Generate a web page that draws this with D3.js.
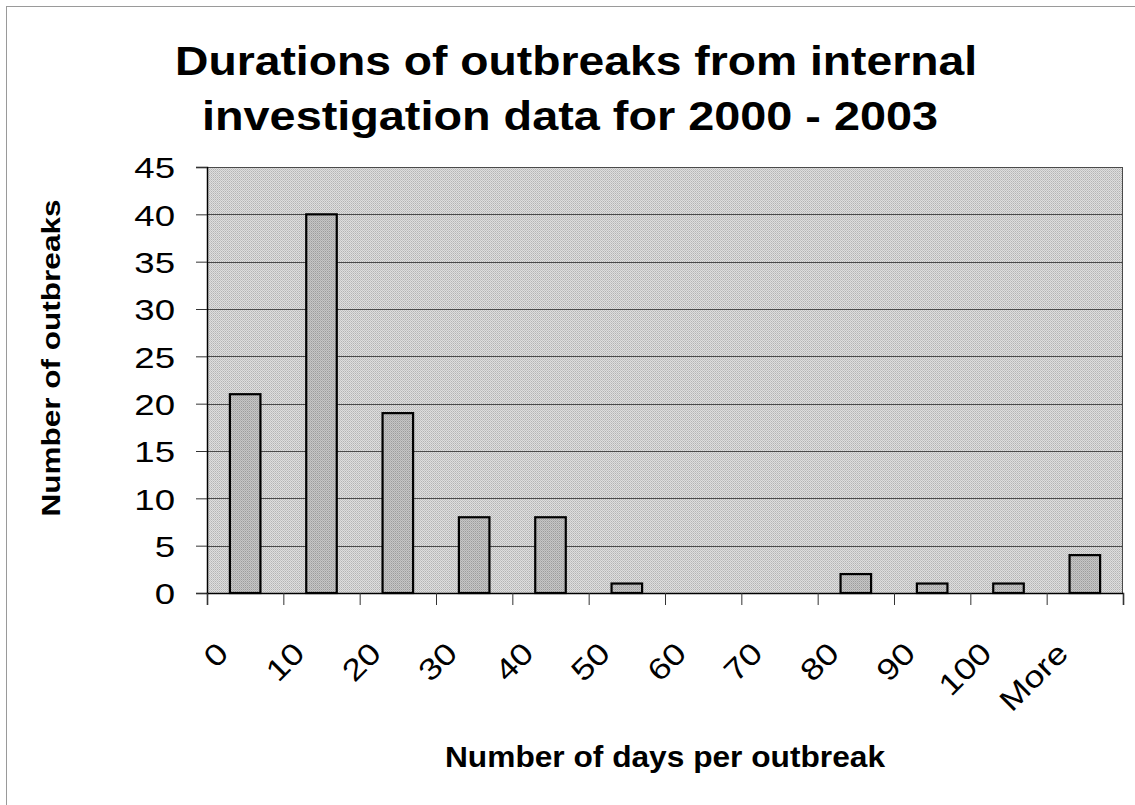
<!DOCTYPE html>
<html>
<head>
<meta charset="utf-8">
<script src="https://cdn.jsdelivr.net/npm/d3@7"></script>
<style>
	body { margin: 0; background: #fff; }
	svg { display: block; font-family: "Liberation Sans", Arial, sans-serif; }
</style>
</head>
<body>
<div id="container"></div>
<script>
	var categories = ["0", "10", "20", "30", "40", "50", "60", "70", "80", "90", "100", "More"];
	var counts = [21, 40, 19, 8, 8, 1, 0, 0, 2, 1, 1, 4];
	var yTicks = [0, 5, 10, 15, 20, 25, 30, 35, 40, 45];
	var titleLines = ["Durations of outbreaks from internal", "investigation data for 2000 - 2003"];

	var margin = {top: 167, right: 12, bottom: 212, left: 207},
		width = 1135 - margin.left - margin.right,
		height = 805 - margin.top - margin.bottom;

	var svg = d3.select("#container").append("svg")
		.attr("width", 1135)
		.attr("height", 805);

	// dithered grey like the printed chart
	var defs = svg.append("defs");
	var pat = defs.append("pattern")
		.attr("id", "dither")
		.attr("width", 2).attr("height", 2)
		.attr("patternUnits", "userSpaceOnUse");
	pat.append("rect").attr("width", 2).attr("height", 2).attr("fill", "#dedede");
	pat.append("rect").attr("width", 1).attr("height", 1).attr("fill", "#b4b4b4");
	pat.append("rect").attr("x", 1).attr("y", 1).attr("width", 1).attr("height", 1).attr("fill", "#c4c4c4");

	var barPat = defs.append("pattern")
		.attr("id", "barDither")
		.attr("width", 2).attr("height", 2)
		.attr("patternUnits", "userSpaceOnUse");
	barPat.append("rect").attr("width", 2).attr("height", 2).attr("fill", "#c6c6c6");
	barPat.append("rect").attr("width", 1).attr("height", 1).attr("fill", "#9c9c9c");
	barPat.append("rect").attr("x", 1).attr("y", 1).attr("width", 1).attr("height", 1).attr("fill", "#b0b0b0");

	// outer frame (only top/left visible in the scan)
	svg.append("rect")
		.attr("x", 6.5).attr("y", 6.5)
		.attr("width", 1300).attr("height", 1000)
		.attr("fill", "none")
		.attr("stroke", "#9a9a9a");

	var x = d3.scaleBand()
		.domain(categories)
		.range([0, width])
		.paddingInner(0.6)
		.paddingOuter(0.3);

	var xEdges = d3.scaleLinear().domain([0, categories.length]).range([0, width]);

	var y = d3.scaleLinear().domain([0, 45]).range([height, 0]);

	var g = svg.append("g").attr("transform", "translate(" + margin.left + "," + margin.top + ")");

	g.append("rect")
		.attr("width", width)
		.attr("height", height)
		.attr("fill", "url(#dither)");

	// gridlines
	g.append("g")
		.selectAll("line")
		.data(yTicks.filter(function(d) { return d > 0; }))
		.enter().append("line")
		.attr("x1", 0).attr("x2", width)
		.attr("y1", function(d) { return Math.round(y(d)) + 0.5; })
		.attr("y2", function(d) { return Math.round(y(d)) + 0.5; })
		.attr("stroke", "#4a4a4a")
		.attr("stroke-width", 1);

	// right border of plot area
	g.append("line")
		.attr("x1", width - 0.5).attr("x2", width - 0.5)
		.attr("y1", y(45)).attr("y2", height)
		.attr("stroke", "#4a4a4a");

	g.append("g").attr("class", "bars")
		.selectAll("rect")
		.data(counts)
		.enter().append("rect")
		.attr("x", function(d, i) { return x(categories[i]); })
		.attr("y", function(d) { return y(d); })
		.attr("width", x.bandwidth())
		.attr("height", function(d) { return height - y(d); })
		.attr("fill", "url(#barDither)")
		.attr("stroke", "#000")
		.attr("stroke-width", 2.2);

	// y axis
	var yAxis = d3.axisLeft(y).tickValues(yTicks).tickSize(11).tickPadding(21);
	var yG = g.append("g").attr("class", "y axis").call(yAxis);
	yG.select(".domain").attr("stroke", "#000").attr("stroke-width", 1.5);
	yG.selectAll(".tick line").attr("stroke", "#333");
	yG.selectAll(".tick text")
		.attr("font-size", 30)
		.attr("fill", "#000")
		.attr("font-family", "Liberation Sans, Arial, sans-serif")
		.attr("dy", "0.36em");

	// x axis: tick marks at bin edges
	var xAxis = d3.axisBottom(xEdges).ticks(categories.length).tickSize(12).tickFormat("");
	var xG = g.append("g").attr("class", "x axis")
		.attr("transform", "translate(0," + height + ")")
		.call(xAxis);
	xG.select(".domain").attr("stroke", "#000").attr("stroke-width", 1.5);
	xG.selectAll(".tick line").attr("stroke", "#333");

	// rotated category labels
	var xLabels = d3.axisBottom(x).tickSize(0).tickPadding(0);
	var xlG = g.append("g").attr("class", "x labels")
		.attr("transform", "translate(0," + height + ")")
		.call(xLabels);
	xlG.select(".domain").remove();
	xlG.selectAll(".tick text")
		.attr("font-size", 30)
		.attr("fill", "#000")
		.attr("font-family", "Liberation Sans, Arial, sans-serif")
		.attr("dy", 0)
		.attr("y", 0)
		.style("text-anchor", "end")
		.attr("transform", "translate(-15,62) rotate(-45)");

	// the scan's glyphs are a bit wider than Arial
	function widen(sel, k) {
		sel.each(function() {
			var len = this.getComputedTextLength();
			d3.select(this).attr("textLength", len * k).attr("lengthAdjust", "spacingAndGlyphs");
		});
	}
	widen(yG.selectAll(".tick text"), 1.22);
	widen(xlG.selectAll(".tick text"), 1.2);

	// title
	var title = svg.append("g").attr("class", "title")
		.attr("font-weight", "bold")
		.attr("font-size", 40)
		.style("text-anchor", "middle");
	title.selectAll("text")
		.data(titleLines)
		.enter().append("text")
		.attr("x", function(d, i) { return i === 0 ? 576 : 570; })
		.attr("y", function(d, i) { return 75 + i * 55; })
		.attr("textLength", function(d, i) { return i === 0 ? 802 : 736; })
		.attr("lengthAdjust", "spacingAndGlyphs")
		.text(function(d) { return d; });

	// axis titles
	svg.append("text")
		.attr("transform", "translate(60,358) rotate(-90)")
		.attr("font-weight", "bold")
		.attr("font-size", 26)
		.style("text-anchor", "middle")
		.attr("textLength", 317)
		.attr("lengthAdjust", "spacingAndGlyphs")
		.text("Number of outbreaks");

	svg.append("text")
		.attr("x", 665)
		.attr("y", 767)
		.attr("font-weight", "bold")
		.attr("font-size", 30)
		.style("text-anchor", "middle")
		.attr("textLength", 440)
		.attr("lengthAdjust", "spacingAndGlyphs")
		.text("Number of days per outbreak");
</script>
</body>
</html>
